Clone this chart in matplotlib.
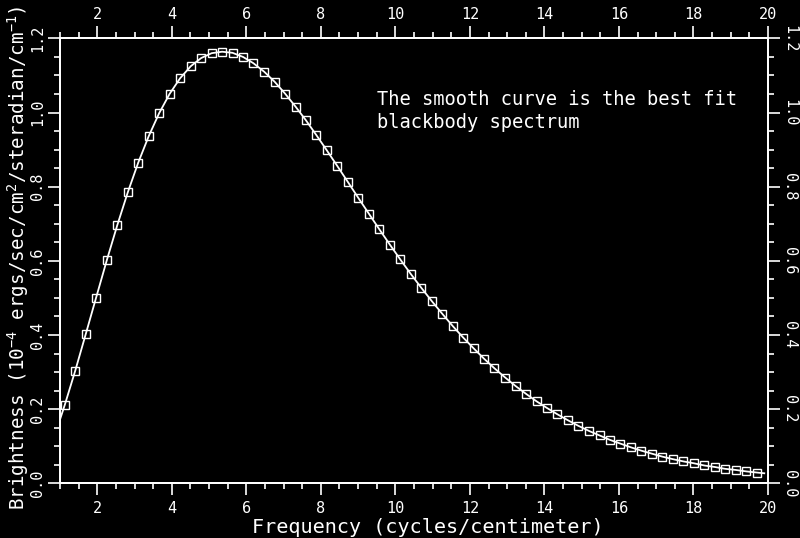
import numpy as np
import matplotlib
matplotlib.use("Agg")
import matplotlib.pyplot as plt

# FIRAS-style spectrum, values
freq = [1.13, 1.41, 1.69, 1.97, 2.26, 2.54, 2.82, 3.10, 3.38, 3.66,
        3.94, 4.22, 4.51, 4.79, 5.07, 5.35, 5.63, 5.91, 6.19, 6.48,
        6.76, 7.04, 7.32, 7.60, 7.88, 8.16, 8.44, 8.73, 9.01, 9.29,
        9.57, 9.85, 10.13, 10.41, 10.69, 10.98, 11.26, 11.54, 11.82, 12.10,
        12.38, 12.66, 12.95, 13.23, 13.51, 13.79, 14.07, 14.35, 14.63, 14.91,
        15.20, 15.48, 15.76, 16.04, 16.32, 16.60, 16.88, 17.16, 17.45, 17.73,
        18.01, 18.29, 18.57, 18.85, 19.13, 19.42, 19.70]
brightness = [0.212, 0.304, 0.402, 0.501, 0.603, 0.697, 0.785, 0.865, 0.936, 0.998,
              1.050, 1.092, 1.125, 1.147, 1.160, 1.164, 1.161, 1.150, 1.133, 1.110,
              1.083, 1.051, 1.016, 0.979, 0.939, 0.898, 0.856, 0.812, 0.769, 0.727,
              0.685, 0.644, 0.604, 0.565, 0.528, 0.491, 0.457, 0.424, 0.393, 0.364,
              0.336, 0.310, 0.285, 0.262, 0.241, 0.221, 0.203, 0.186, 0.170, 0.155,
              0.141, 0.129, 0.117, 0.107, 0.097, 0.088, 0.080, 0.072, 0.065, 0.059,
              0.054, 0.048, 0.044, 0.039, 0.036, 0.032, 0.029]

# ends of the fitted curve
fit_start = (1.0, 0.172)
fit_end = (19.9, 0.027)

x_ticks = [2, 4, 6, 8, 10, 12, 14, 16, 18, 20]
y_ticks = [0.0, 0.2, 0.4, 0.6, 0.8, 1.0, 1.2]
y_ticklabels = ["0.0", "0.2", "0.4", "0.6", "0.8", "1.0", "1.2"]

mono = "DejaVu Sans Mono"
plt.rcParams["font.family"] = mono
plt.rcParams["mathtext.fontset"] = "custom"
plt.rcParams["mathtext.rm"] = mono
plt.rcParams["mathtext.default"] = "rm"

fig = plt.figure(figsize=(8, 5.38), dpi=100, facecolor="black")
ax = fig.add_axes([0.075, 0.1017, 0.885, 0.827])
ax.set_facecolor("black")

curve_x = [fit_start[0]] + freq + [fit_end[0]]
curve_y = [fit_start[1]] + brightness + [fit_end[1]]
ax.plot(curve_x, curve_y, color="white", lw=1.3, zorder=2)
ax.plot(freq, brightness, ls="none", marker="s", ms=5.6, mfc="none",
        mec="white", mew=1.0, zorder=3)

ax.set_xlim(1, 20)
ax.set_ylim(0, 1.2)

# twin axes for top and right labels
axr = ax.twinx()
axt = ax.twiny()
axr.set_ylim(0, 1.2)
axt.set_xlim(1, 20)

for a in (ax, axr, axt):
    for s in a.spines.values():
        s.set_color("white")
        s.set_linewidth(1.3)
    a.tick_params(which="both", colors="white", width=1.2, direction="out")
    a.tick_params(which="major", length=8.6, labelsize=11)
    a.tick_params(which="minor", length=4.5)

ax.set_xticks(x_ticks)
ax.set_xticks(np.arange(1, 20.01, 0.5), minor=True)
axt.set_xticks(x_ticks)
axt.set_xticks(np.arange(1, 20.01, 0.5), minor=True)
ax.set_yticks(y_ticks)
ax.set_yticklabels(y_ticklabels)
ax.set_yticks(np.arange(0, 1.201, 0.05), minor=True)
axr.set_yticks(y_ticks)
axr.set_yticklabels(y_ticklabels)
axr.set_yticks(np.arange(0, 1.201, 0.05), minor=True)

ax.tick_params(axis="y", which="major", labelrotation=90, pad=2)
for lab in ax.get_yticklabels():
    lab.set_va("center")
axr.tick_params(axis="y", which="major", labelrotation=-90, pad=1.5)
for lab in axr.get_yticklabels():
    lab.set_va("center")
ax.tick_params(axis="x", which="major", pad=4)
axt.tick_params(axis="x", which="major", pad=3)

ax.set_xlabel("Frequency (cycles/centimeter)", color="white", fontsize=14.5)
ax.xaxis.set_label_coords(0.52, -0.078)
ax.set_ylabel(r"Brightness (10$^{-4}$ ergs/sec/cm$^{2}$/steradian/cm$^{-1}$)",
              color="white", fontsize=13.9)
ax.yaxis.set_label_coords(-0.041, 0.506)

ax.text(0.448, 0.885, "The smooth curve is the best fit\nblackbody spectrum",
        transform=ax.transAxes, color="white", fontsize=13.5, va="top",
        ha="left", linespacing=1.3)

fig.savefig("out.png", dpi=100, facecolor="black")
